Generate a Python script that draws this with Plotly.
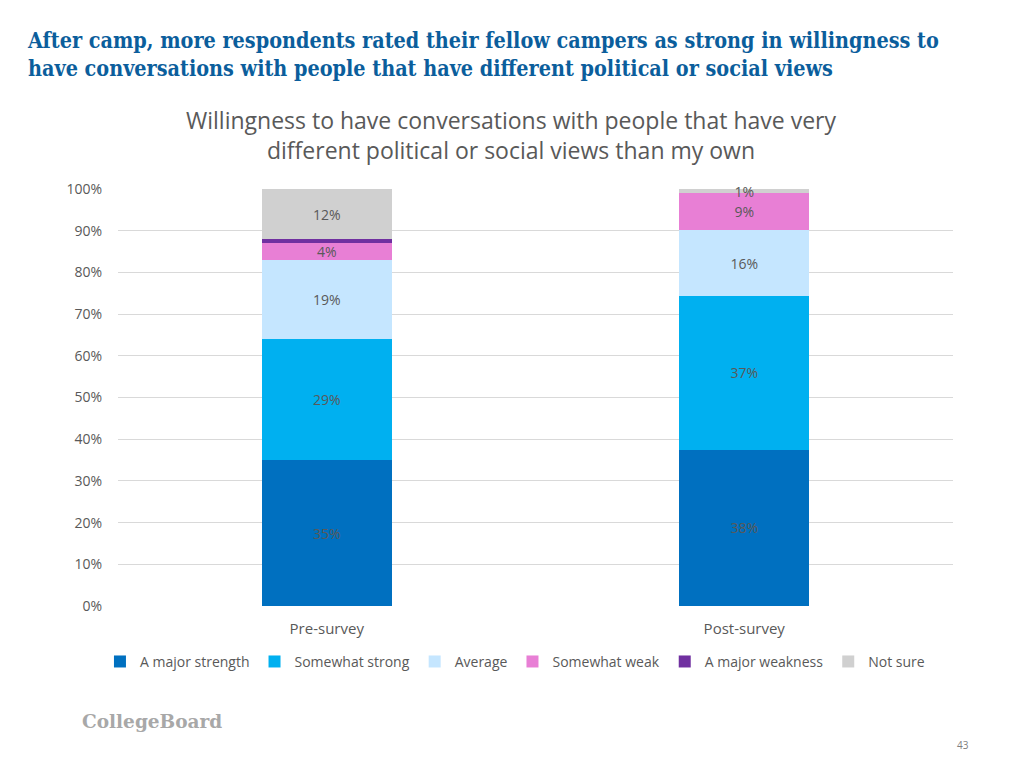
import plotly.graph_objects as go

categories = ["Pre-survey", "Post-survey"]
series_names = ["A major strength", "Somewhat strong", "Average", "Somewhat weak", "A major weakness", "Not sure"]
values = {
    "A major strength": [35.0, 37.5],
    "Somewhat strong": [29.0, 36.8],
    "Average": [19.0, 15.9],
    "Somewhat weak": [4.0, 8.8],
    "A major weakness": [1.0, 0.0],
    "Not sure": [12.0, 1.0],
}
labels = {
    "A major strength": ["35%", "38%"],
    "Somewhat strong": ["29%", "37%"],
    "Average": ["19%", "16%"],
    "Somewhat weak": ["4%", "9%"],
    "A major weakness": ["", ""],
    "Not sure": ["12%", "1%"],
}
colors = {
    "A major strength": "#0070C0",
    "Somewhat strong": "#00B0F0",
    "Average": "#C5E6FF",
    "Somewhat weak": "#E87FD5",
    "A major weakness": "#7030A0",
    "Not sure": "#D0D0D0",
}
y_ticks = [0, 10, 20, 30, 40, 50, 60, 70, 80, 90, 100]
y_tick_labels = [f"{v}%" for v in y_ticks]

fig = go.Figure()
for name in series_names:
    fig.add_trace(go.Bar(
        name=name,
        x=categories,
        y=values[name],
        marker=dict(color=colors[name], line=dict(width=0)),
        text=labels[name],
        textposition="inside",
        insidetextanchor="middle",
        textfont=dict(color="#595959", size=14, family="Open Sans"),
        cliponaxis=False,
        hoverinfo="skip",
    ))

fig.update_layout(
    barmode="stack",
    bargap=0.689,
    width=1024,
    height=768,
    paper_bgcolor="white",
    plot_bgcolor="white",
    margin=dict(l=110, r=79, t=181, b=170, autoexpand=False),
    uniformtext=dict(minsize=14, mode="show"),
    font=dict(family="Open Sans", color="#595959", size=14),
    showlegend=True,
    legend=dict(
        orientation="h",
        x=0.4754, xanchor="center",
        y=-0.134, yanchor="middle",
        font=dict(size=14, color="#595959"),
        traceorder="normal",
        bgcolor="rgba(0,0,0,0)",
    ),
    xaxis=dict(
        showgrid=False, showline=False, ticks="",
        ticklabelstandoff=12,
        tickfont=dict(size=15, color="#595959"),
    ),
    yaxis=dict(
        range=[0, 100],
        tickvals=y_ticks,
        ticktext=y_tick_labels,
        showgrid=True, gridcolor="#D9D9D9", gridwidth=1,
        zeroline=False, showline=False, ticks="",
        ticklabelstandoff=15,
        tickfont=dict(size=14, color="#595959"),
    ),
    annotations=[
        dict(
            text="After camp, more respondents rated their fellow campers as strong in willingness to<br>have conversations with people that have different political or social views",
            xref="paper", yref="paper", x=-0.1114, y=1.0, xanchor="left", yanchor="top",
            yshift=163, showarrow=False, align="left",
            font=dict(family="DejaVu Serif Condensed", size=21.4, color="#0B5E9C", weight="bold"),
        ),
        dict(
            text="Willingness to have conversations with people that have very<br>different political or social views than my own",
            xref="paper", yref="paper", x=0.4706, y=1.0, xanchor="center", yanchor="bottom",
            yshift=21, showarrow=False, align="center",
            font=dict(family="Open Sans", size=23, color="#595959"),
        ),
        dict(
            text="CollegeBoard",
            xref="paper", yref="paper", x=-0.045, y=0, xanchor="left", yanchor="top",
            yshift=-103, showarrow=False,
            font=dict(family="DejaVu Serif", size=18.5, color="#A8A8A8", weight="bold"),
        ),
        dict(
            text="43",
            xref="paper", yref="paper", x=1.022, y=0, xanchor="right", yanchor="top",
            yshift=-130, showarrow=False,
            font=dict(family="Open Sans", size=10, color="#808080"),
        ),
    ],
)

fig.write_html("out.html")
